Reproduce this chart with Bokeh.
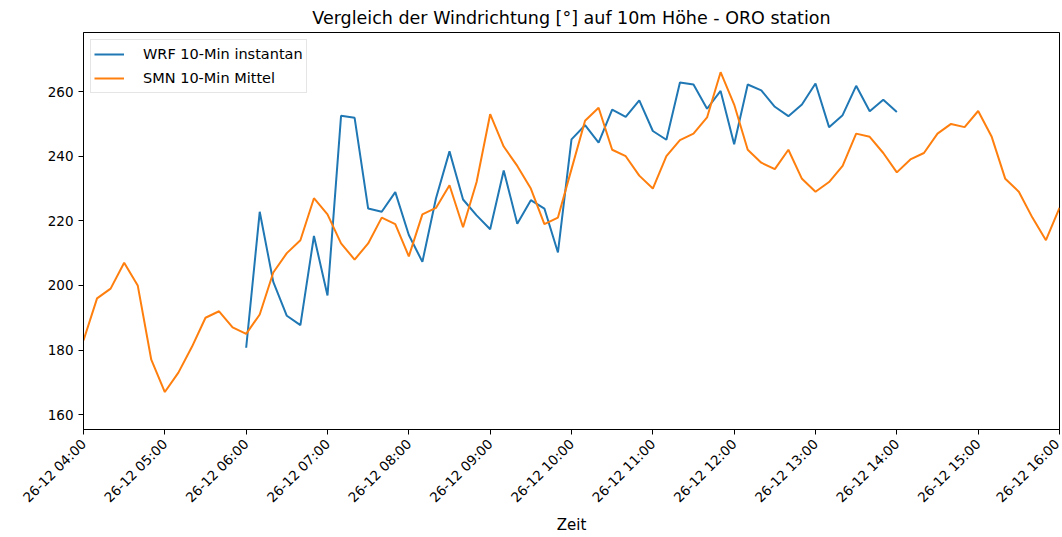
import numpy as np
import pandas as pd
from bokeh.plotting import figure
from bokeh.models import FixedTicker, DatetimeTickFormatter, Range1d, Legend, LegendItem
from bokeh.embed import file_html
from bokeh.resources import INLINE
from math import pi

title = "Vergleich der Windrichtung [°] auf 10m Höhe - ORO station"
smn_label = "SMN 10-Min Mittel"
wrf_label = "WRF 10-Min instantan"

smn_start = "2023-12-26 04:00"
wrf_start = "2023-12-26 06:00"

smn_values = [183, 196, 199, 207, 200, 177, 167, 173, 181, 190, 192, 187,
              185, 191, 204, 210, 214, 227, 222, 213, 208, 213, 221, 219,
              209, 222, 224, 231, 218, 232, 253, 243, 237, 230, 219, 221,
              236, 251, 255, 242, 240, 234, 230, 240, 245, 247, 252, 266,
              256, 242, 238, 236, 242, 233, 229, 232, 237, 247, 246, 241,
              235, 239, 241, 247, 250, 249, 254, 246, 233, 229, 221, 214,
              224]

wrf_values = [180.7, 222.8, 201.1, 190.6, 187.7, 215.3, 196.9, 252.5, 251.9, 223.8,
              222.8, 228.9, 215.6, 207.3, 226.9, 241.5, 226.6, 221.7, 217.4, 235.6,
              219.1, 226.4, 223.8, 210.2, 245.2, 249.6, 244.2, 254.4, 252.2, 257.3,
              247.8, 245.1, 262.8, 262.2, 254.7, 260.2, 243.7, 262.2, 260.4, 255.3,
              252.4, 256.0, 262.5, 249.0, 252.7, 261.8, 253.9, 257.5, 253.7]

smn_time = pd.date_range(smn_start, periods=len(smn_values), freq="10min")
wrf_time = pd.date_range(wrf_start, periods=len(wrf_values), freq="10min")
tick_times = pd.date_range("2023-12-26 04:00", "2023-12-26 16:00", freq="1h")

p = figure(width=1062, height=537, x_axis_type="datetime",
           output_backend="svg", toolbar_location=None,
           min_border_left=83, min_border_right=3, min_border_top=14, min_border_bottom=107)

p.x_range = Range1d(smn_time[0], smn_time[-1])
p.y_range = Range1d(155.4, 278.3)

r_wrf = p.line(wrf_time, wrf_values, line_color="#1f77b4", line_width=2)
r_smn = p.line(smn_time, smn_values, line_color="#ff7f0e", line_width=2)

p.title.text = title
p.title.align = "center"
p.title.text_font = "DejaVu Sans"
p.title.text_font_size = "17.5px"
p.title.text_font_style = "normal"
p.title.text_color = "black"

p.xgrid.visible = False
p.ygrid.visible = False
p.outline_line_color = "black"
p.outline_line_width = 1

tick_ms = [t.value // 10**6 for t in tick_times]
p.xaxis.ticker = FixedTicker(ticks=tick_ms)
p.xaxis.formatter = DatetimeTickFormatter(hours="%d-%m %H:%M", days="%d-%m %H:%M",
                                          minutes="%d-%m %H:%M", hourmin="%d-%m %H:%M")
p.xaxis.major_label_orientation = pi / 4
p.yaxis.ticker = FixedTicker(ticks=[160, 180, 200, 220, 240, 260])

for ax in (p.xaxis, p.yaxis):
    ax.minor_tick_line_color = None
    ax.major_tick_out = 5
    ax.major_tick_in = 0
    ax.major_label_text_font = "DejaVu Sans"
    ax.major_label_text_font_size = "13.5px"
    ax.major_label_text_color = "black"
    ax.axis_line_color = "black"
    ax.major_tick_line_color = "black"
p.xaxis.major_label_standoff = 7

p.xaxis.axis_label = "Zeit"
p.xaxis.axis_label_text_font = "DejaVu Sans"
p.xaxis.axis_label_text_font_size = "15px"
p.xaxis.axis_label_text_font_style = "normal"
p.xaxis.axis_label_text_color = "black"
p.xaxis.axis_label_standoff = 2

legend = Legend(items=[LegendItem(label=wrf_label, renderers=[r_wrf]),
                       LegendItem(label=smn_label, renderers=[r_smn])],
                location="top_left")
legend.label_text_font = "DejaVu Sans"
legend.label_text_font_size = "14.5px"
legend.label_text_color = "black"
legend.glyph_width = 30
legend.glyph_height = 22
legend.label_height = 22
legend.spacing = 2
legend.padding = 3
legend.margin = 7
legend.label_standoff = 19
legend.border_line_color = "#cccccc"
legend.border_line_width = 1
legend.background_fill_alpha = 0.8
p.add_layout(legend)

open("out.html", "w").write(file_html(p, INLINE))
